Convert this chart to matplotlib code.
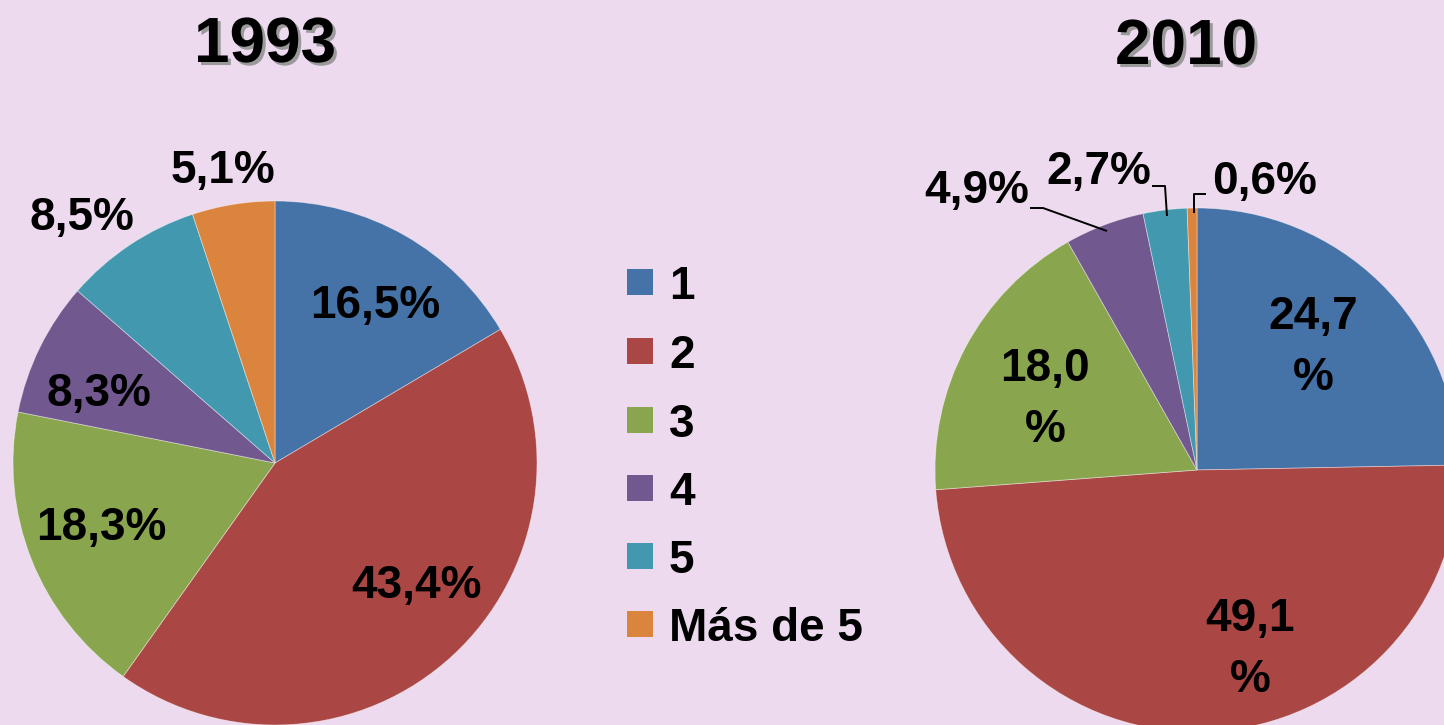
import matplotlib
matplotlib.use("Agg")
import matplotlib.pyplot as plt
import matplotlib.patheffects as pe
from matplotlib.patches import Rectangle

# ---- data ----
categories = ["1", "2", "3", "4", "5", "Más de 5"]
values_1993 = [16.5, 43.4, 18.3, 8.3, 8.5, 5.1]
values_2010 = [24.7, 49.1, 18.0, 4.9, 2.7, 0.6]
labels_1993 = ["16,5%", "43,4%", "18,3%", "8,3%", "8,5%", "5,1%"]
labels_2010 = ["24,7\n%", "49,1\n%", "18,0\n%", "4,9%", "2,7%", "0,6%"]
titles = ["1993", "2010"]

# ---- style / layout (pixel coordinates, y measured from top) ----
colors = ["#4572A7", "#AA4643", "#89A54E", "#71588F", "#4198AF", "#DB843D"]
bg = "#EDDAEE"
W, H = 1444, 725
FONT = ["Liberation Sans", "DejaVu Sans"]
lab_size = 33

pie_centers = [(275, 463), (1197, 470)]
pie_radius = 262
title_pos = [(265, 62), (1186, 64)]
# baseline positions of each label line
label_pos_1993 = [(375, 318), (416, 598), (101, 540), (99, 406), (82, 230), (223, 183)]
label_pos_2010 = [(1313, 329), (1250, 631), (1045, 381), (977, 203), (1099, 184), (1265, 194)]
line_gap = 61
leaders_2010 = {
    3: [(1030, 208), (1043, 208), (1107, 231)],
    4: [(1152, 186), (1165, 186), (1167, 216)],
    5: [(1206, 194), (1194, 194), (1194, 213)],
}
legend_x = 627
legend_y = [282, 351, 420, 488, 556, 624]
legend_sq = 26


def Y(y):
    return H - y


fig = plt.figure(figsize=(W / 100, H / 100), dpi=100, facecolor=bg)
ax = fig.add_axes([0, 0, 1, 1])
ax.set_facecolor(bg)

for vals, (cx, cy) in zip([values_1993, values_2010], pie_centers):
    ax.pie(vals, colors=colors, startangle=90, counterclock=False,
           center=(cx, Y(cy)), radius=pie_radius,
           wedgeprops=dict(edgecolor=(1, 1, 1, 0.45), linewidth=0.6))

ax.set_xlim(0, W)
ax.set_ylim(0, H)
ax.set_aspect("auto")
ax.axis("off")

# titles with shadow
shadow = [pe.SimplePatchShadow(offset=(2.2, -2.2), shadow_rgbFace="#9A9A9A", alpha=1.0),
          pe.Normal()]
for t, (x, y) in zip(titles, title_pos):
    ax.text(x, Y(y), t, ha="center", va="baseline", fontsize=46,
            fontweight="bold", family=FONT, color="black", path_effects=shadow)

# data labels
for labs, poss in [(labels_1993, label_pos_1993), (labels_2010, label_pos_2010)]:
    for lab, (x, y) in zip(labs, poss):
        for k, line in enumerate(lab.split("\n")):
            ax.text(x, Y(y + k * line_gap), line, ha="center", va="baseline",
                    fontsize=lab_size, fontweight="bold", family=FONT, color="black")

# leader lines
for idx, pts in leaders_2010.items():
    ax.plot([p[0] for p in pts], [Y(p[1]) for p in pts], color="black", lw=1.4,
            solid_capstyle="butt")

# legend
for cat, col, yc in zip(categories, colors, legend_y):
    ax.add_patch(Rectangle((legend_x, Y(yc) - legend_sq / 2), legend_sq, legend_sq,
                           facecolor=col, edgecolor="none"))
    ax.text(legend_x + 42, Y(yc), cat, ha="left", va="center_baseline",
            fontsize=lab_size, fontweight="bold", family=FONT, color="black")

fig.savefig("out.png", dpi=100, facecolor=bg)
